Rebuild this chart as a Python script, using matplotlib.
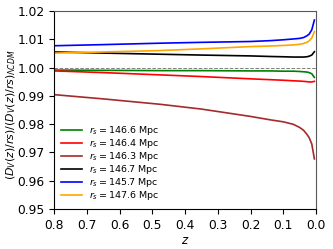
import numpy as np
import matplotlib
matplotlib.use('Agg')
import matplotlib.pyplot as plt

# redshift points (dense near z=0 where curves turn)
z = [0.8, 0.65, 0.477, 0.35, 0.2, 0.14, 0.1, 0.069, 0.05, 0.038, 0.028, 0.021, 0.013, 0.005]

green = [0.9991, 0.9990, 0.9989, 0.9989, 0.9988, 0.9988, 0.9987, 0.9987, 0.9986, 0.9985, 0.9984, 0.9982, 0.9978, 0.9965]
red = [0.9988, 0.9982, 0.9974, 0.9968, 0.9960, 0.9957, 0.9955, 0.9953, 0.9952, 0.9951, 0.9950, 0.9949, 0.9949, 0.9951]
brown = [0.9904, 0.9889, 0.9870, 0.9853, 0.9827, 0.9815, 0.9808, 0.9799, 0.9788, 0.9778, 0.9764, 0.9752, 0.9730, 0.9677]
black = [1.0055, 1.0051, 1.0047, 1.0044, 1.0041, 1.0039, 1.0038, 1.0037, 1.0037, 1.0037, 1.0038, 1.0040, 1.0044, 1.0056]
blue = [1.0077, 1.0081, 1.0086, 1.0089, 1.0092, 1.0095, 1.0098, 1.0101, 1.0103, 1.0106, 1.0112, 1.0118, 1.0133, 1.0168]
orange = [1.0051, 1.0055, 1.0060, 1.0066, 1.0074, 1.0076, 1.0078, 1.0080, 1.0082, 1.0085, 1.0089, 1.0094, 1.0104, 1.0127]

rs = ['146.6', '146.4', '146.3', '146.7', '145.7', '147.6']
colors = ['green', 'red', 'brown', 'black', 'blue', 'orange']
series = [green, red, brown, black, blue, orange]

fig = plt.figure(figsize=(3.33, 2.49), dpi=100)
ax = fig.add_axes([0.163, 0.161, 0.786, 0.795])

ax.axhline(1.0, color='gray', ls='--', lw=0.7)
for vals, c, r in zip(series, colors, rs):
    ax.plot(z, vals, color=c, lw=1.2, label=r'$r_s = $' + r + ' Mpc')

ax.set_xlim(0.8, 0.0)
ax.set_ylim(0.95, 1.02)
ax.set_xticks(np.arange(0.8, -0.01, -0.1))
ax.set_yticks(np.arange(0.95, 1.021, 0.01))
ax.tick_params(labelsize=8.8, length=3.5, width=0.8)
ax.set_xlabel('$z$', fontsize=8.5, labelpad=2)
ax.set_ylabel(r'$(D_V(z)/rs)/(D_V(z)/rs)_{\Lambda CDM}$', fontsize=7.9)
ax.yaxis.set_label_coords(-0.139, 0.475)
for s in ['top', 'right']:
    ax.spines[s].set_color('0.35')

ax.legend(loc='lower left', fontsize=6.8, frameon=False, handlelength=2.2,
          labelspacing=0.0, borderaxespad=0.3)

fig.savefig('out.png', dpi=100)
